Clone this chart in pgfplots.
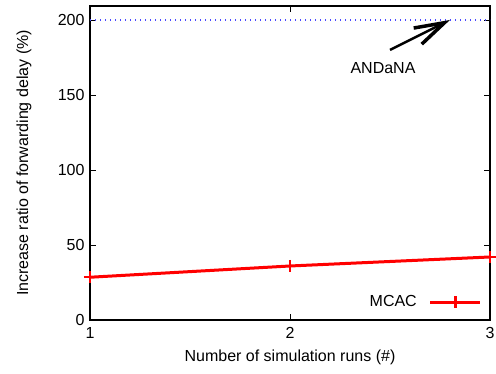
\documentclass[border=0pt]{standalone}
\usepackage{fontspec}
\setmainfont{Liberation Sans}
\usepackage{pgfplots}
\pgfplotsset{compat=1.18}
\usetikzlibrary{arrows.meta}
\begin{document}
\fontsize{16bp}{19bp}\selectfont
\begin{tikzpicture}
\useasboundingbox (0,0) rectangle (496bp,374bp);
\begin{axis}[
  at={(90bp,54bp)}, anchor=south west,
  scale only axis, width=400bp, height=314bp,
  xmin=1, xmax=3, ymin=0, ymax=209.3,
  xtick={1,2,3}, ytick={0,50,100,150,200},
  tick align=inside, major tick length=6bp,
  axis line style={line width=1.2bp},
  tick style={line width=0.8bp, black},
  /pgf/number format/assume math mode=true,
  ticklabel style={font=\fontsize{16bp}{19bp}\selectfont},
  xticklabel style={yshift=-2bp},
  xlabel={Number of simulation runs (\#)},
  ylabel={Increase ratio of forwarding delay (\%)},
  xlabel style={at={(axis description cs:0.5,-0.118)}, anchor=center},
  ylabel style={at={(axis description cs:-0.165,0.5)}, anchor=center},
  legend style={draw=none, fill=none, at={(axis description cs:0.98,0.057)}, anchor=east, font=\fontsize{16bp}{19bp}\selectfont, inner sep=0pt},
  legend cell align=right,
  legend plot pos=right,
  legend image code/.code={\draw[mark repeat=2,mark phase=2] plot coordinates {(0bp,0bp)(25bp,0bp)(50bp,0bp)};},
  clip=false,
]
\addplot[color={rgb,255:red,70;green,70;blue,255}, line width=1.3bp, dash pattern=on 1.3bp off 3.7bp, forget plot] coordinates {(1,200) (3,200)};
\addplot[color=red, line width=3bp, mark=+, mark size=6bp, mark options={line width=2.5bp}] coordinates {(1,28.5) (2,36) (3,42)};
\addlegendentry{MCAC\hspace*{10bp}}
\draw[line width=2.5bp, -{Straight Barb[length=30bp,width=18bp,line width=3.5bp]}] (axis cs:2.5,180) -- (axis cs:2.8,200);
\node at (axis cs:2.465,168) {ANDaNA};
\end{axis}
\end{tikzpicture}
\end{document}
